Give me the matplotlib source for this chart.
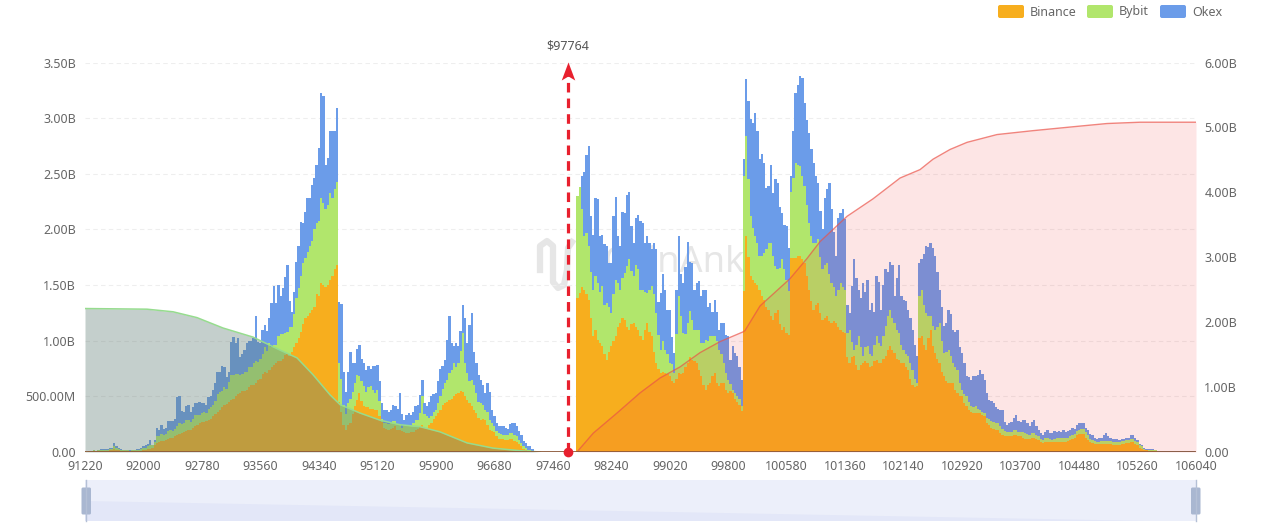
import numpy as np
import matplotlib
matplotlib.use("Agg")
import matplotlib.pyplot as plt
from matplotlib.patches import FancyBboxPatch, Rectangle

plt.rcParams['font.family'] = ['Noto Sans', 'DejaVu Sans']

# liquidation per $30 price bin, in billions
binance = [
    .00, .00, .00, .00, .01, .01, .01, .01, .01, .01, .01, .02, .02, .03, .02, .02, .01, .01, .01, .01,
    .00, .01, .01, .01, .01, .01, .02, .02, .03, .03, .04, .06, .08, .09, .10, .10, .11, .12, .13, .13,
    .14, .15, .16, .17, .18, .19, .20, .20, .22, .23, .24, .26, .27, .27, .28, .29, .30, .32, .34, .36,
    .38, .40, .42, .43, .45, .47, .48, .50, .52, .53, .55, .55, .56, .58, .60, .60, .62, .65, .66, .70,
    .72, .71, .74, .76, .78, .80, .82, .82, .84, .87, .88, .86, .90, .94, .98, 1.02, 1.08, 1.15, 1.20, 1.22,
    1.25, 1.28, 1.30, 1.42, 1.40, 1.52, 1.50, 1.48, 1.50, 1.55, 1.58, 1.64, 1.68, .45, .36, .24, .20, .24, .26, .34,
    .41, .47, .53, .46, .41, .40, .40, .39, .39, .38, .38, .32, .27, .22, .21, .20, .21, .22, .23, .20,
    .20, .19, .18, .17, .17, .18, .18, .20, .21, .23, .24, .22, .21, .24, .26, .30, .32, .35, .38, .42,
    .44, .45, .47, .48, .50, .52, .53, .55, .54, .50, .47, .44, .41, .38, .35, .31, .29, .30, .29, .24,
    .20, .19, .18, .14, .12, .12, .12, .11, .11, .12, .12, .10, .09, .07, .05, .03, .02, .01, .01, .00,
    .00, .00, .00, .00, .00, .00, .00, .00, .00, .00, .00, .00, .00, .00, .00, .00, .00, .00, .00, 1.38,
    1.43, 1.48, 1.46, 1.42, 1.37, 1.20, 1.04, 1.10, 1.01, .98, .95, .88, .83, .90, .95, 1.00, 1.04, 1.12, 1.16, 1.20,
    1.19, 1.12, 1.10, 1.15, 1.16, 1.12, 1.10, 1.04, 1.01, 1.10, 1.16, 1.08, 1.04, .90, .80, .75, .71, .72, .71, .70,
    .68, .64, .62, .66, .71, .70, .71, .76, .80, .85, .83, .82, .80, .74, .68, .60, .56, .60, .62, .68,
    .71, .62, .59, .62, .62, .56, .53, .55, .53, .48, .45, .42, .37, 1.45, 1.94, 1.75, 1.58, 1.55, 1.52, 1.50,
    1.46, 1.40, 1.37, 1.30, 1.28, 1.22, 1.19, 1.25, 1.28, 1.15, 1.10, 1.12, 1.07, 1.05, 1.74, 1.74, 1.74, 1.76, 1.76, 1.73,
    1.70, 1.58, 1.46, 1.36, 1.28, 1.32, 1.34, 1.25, 1.19, 1.20, 1.22, 1.18, 1.16, 1.18, 1.16, 1.12, 1.10, 1.08, 1.07, .85,
    .80, .85, .86, .78, .74, .78, .80, .82, .80, .76, .77, .82, .83, .80, .80, .84, .86, .92, .95, .92,
    .89, .84, .83, .80, .80, .76, .74, .66, .60, .58, .59, 1.02, 1.04, .96, .92, 1.02, 1.10, .95, .89, .84,
    .80, .72, .68, .64, .62, .62, .62, .56, .53, .50, .50, .44, .41, .38, .36, .35, .35, .35, .35, .33,
    .32, .26, .24, .22, .21, .20, .20, .17, .15, .14, .14, .14, .14, .15, .15, .14, .14, .13, .12, .12,
    .12, .13, .13, .12, .11, .09, .08, .09, .09, .09, .09, .09, .09, .09, .09, .09, .09, .10, .11, .12,
    .13, .15, .16, .16, .16, .13, .11, .09, .08, .07, .07, .07, .07, .07, .07, .07, .07, .06, .06, .06,
    .06, .07, .07, .08, .08, .09, .09, .07, .06, .04, .03, .02, .02, .01, .01, .01, .01, .00, .00, .00,
    .00, .00, .00, .00, .00, .00, .00, .00, .00, .00, .00, .00, .00, .00,
]
bybit = [
    .01, .00, .01, .01, .01, .00, .01, .01, .01, .01, .01, .01, .01, .02, .02, .01, .01, .01, .01, .01,
    .01, .01, .01, .01, .01, .02, .02, .02, .02, .03, .02, .03, .06, .05, .06, .05, .05, .07, .07, .06,
    .07, .08, .10, .08, .08, .10, .09, .07, .08, .10, .09, .07, .08, .09, .07, .10, .10, .10, .12, .16,
    .16, .15, .16, .14, .18, .22, .21, .20, .18, .16, .15, .17, .16, .18, .16, .20, .20, .16, .18, .18,
    .22, .20, .24, .18, .18, .16, .22, .24, .22, .20, .20, .26, .22, .30, .40, .45, .50, .55, .54, .58,
    .60, .62, .70, .64, .68, .76, .74, .70, .72, .78, .70, .72, .75, .35, .30, .18, .14, .20, .22, .20,
    .21, .22, .15, .18, .18, .14, .18, .20, .17, .15, .18, .14, .03, .04, .05, .05, .05, .06, .05, .05,
    .04, .03, .05, .06, .06, .05, .08, .09, .08, .12, .26, .12, .11, .07, .06, .06, .06, .09, .12, .15,
    .18, .20, .24, .26, .30, .24, .27, .36, .53, .30, .24, .20, .24, .22, .18, .14, .15, .12, .09, .12,
    .09, .07, .05, .05, .05, .04, .03, .04, .04, .05, .05, .05, .05, .04, .03, .02, .02, .01, .01, .01,
    .00, .00, .00, .00, .00, .00, .00, .00, .00, .00, .00, .00, .00, .00, .00, .00, .00, .00, .00, .92,
    .95, .70, .48, .55, .48, .42, .42, .48, .51, .46, .54, .44, .51, .40, .30, .42, .51, .40, .30, .36,
    .42, .55, .63, .48, .42, .56, .54, .42, .45, .34, .27, .38, .45, .52, .45, .30, .21, .28, .21, .18,
    .12, .15, .09, .40, .69, .52, .36, .30, .36, .42, .36, .28, .30, .36, .30, .38, .45, .40, .42, .36,
    .33, .38, .33, .26, .18, .15, .12, .06, .03, .05, .05, .06, .04, 1.03, .90, .70, .54, .46, .42, .38,
    .30, .36, .42, .52, .60, .66, .57, .42, .36, .50, .63, .52, .48, .40, .60, .72, .86, .82, .81, .75,
    .69, .64, .60, .58, .60, .56, .57, .50, .45, .48, .48, .42, .36, .30, .24, .34, .42, .40, .39, .22,
    .30, .14, .06, .18, .30, .16, .06, .12, .15, .12, .09, .14, .21, .18, .15, .20, .27, .30, .33, .28,
    .27, .26, .24, .16, .12, .12, .12, .14, .14, .08, .03, .38, .42, .36, .33, .20, .12, .18, .21, .28,
    .36, .28, .21, .26, .30, .24, .18, .20, .21, .12, .06, .08, .09, .07, .05, .05, .06, .04, .03, .03,
    .03, .05, .06, .06, .06, .06, .06, .06, .06, .05, .04, .04, .04, .05, .05, .04, .04, .05, .05, .04,
    .03, .04, .04, .03, .03, .03, .03, .04, .04, .03, .02, .03, .04, .04, .04, .04, .04, .03, .03, .03,
    .03, .04, .04, .05, .05, .05, .04, .03, .03, .03, .02, .02, .03, .03, .03, .03, .03, .03, .03, .03,
    .03, .03, .03, .03, .03, .03, .03, .03, .03, .02, .02, .01, .00, .01, .01, .01, .01, .00, .00, .00,
    .00, .00, .00, .00, .00, .00, .00, .00, .00, .00, .00, .00, .00, .00,
]
okex = [
    .00, .00, .00, .00, .00, .00, .00, .01, .01, .01, .01, .01, .01, .03, .01, .01, .01, .00, .00, .00,
    .01, .00, .00, .01, .01, .01, .01, .02, .02, .05, .00, .02, .08, .06, .08, .06, .06, .09, .08, .09,
    .09, .26, .24, .12, .10, .12, .13, .09, .10, .11, .11, .12, .09, .08, .07, .10, .10, .14, .16, .20,
    .18, .22, .18, .10, .09, .30, .34, .28, .32, .16, .18, .20, .26, .24, .24, .22, .40, .18, .14, .22,
    .20, .18, .22, .40, .53, .38, .46, .34, .41, .50, .60, .24, .14, .20, .33, .38, .49, .36, .42, .48,
    .43, .50, .46, .52, .65, .95, .96, .40, .42, .55, .60, .52, .66, .55, .67, .30, .20, .28, .42, .26,
    .18, .24, .28, .20, .21, .20, .19, .16, .21, .24, .22, .18, .14, .12, .12, .11, .12, .14, .13, .14,
    .29, .12, .06, .10, .12, .10, .10, .12, .13, .16, .15, .10, .09, .14, .18, .16, .15, .20, .25, .20,
    .21, .36, .51, .24, .15, .22, .15, .18, .25, .40, .27, .50, .60, .30, .27, .24, .21, .18, .15, .26,
    .25, .12, .09, .07, .06, .07, .08, .07, .06, .08, .09, .11, .09, .08, .07, .05, .04, .03, .03, .02,
    .01, .00, .00, .00, .00, .00, .00, .00, .00, .00, .00, .00, .00, .00, .00, .00, .00, .00, .00, .00,
    .00, .30, .58, .70, .90, .50, .49, .70, .75, .50, .46, .55, .51, .40, .45, .70, .74, .42, .39, .60,
    .54, .64, .61, .40, .30, .42, .49, .62, .60, .44, .51, .42, .33, .46, .57, .30, .51, .60, .54, .40,
    .48, .24, .18, .40, .54, .38, .45, .60, .73, .44, .51, .36, .42, .44, .42, .48, .45, .30, .30, .22,
    .33, .26, .18, .28, .36, .34, .39, .22, .39, .36, .36, .28, .24, .15, .51, .70, .87, .95, 1.11, 1.00,
    .87, .92, .81, .55, .51, .70, .57, .78, .78, .55, .42, .40, .48, .38, .14, .42, .63, .72, .81, .88,
    .75, .76, .81, .78, .72, .60, .51, .42, .36, .60, .66, .82, .66, .50, .36, .64, .63, .70, .63, .25,
    .15, .50, .81, .60, .42, .44, .66, .50, .60, .40, .48, .30, .54, .55, .33, .46, .51, .40, .43, .48,
    .24, .46, .61, .44, .45, .48, .42, .40, .36, .30, .24, .30, .27, .46, .60, .62, .66, .70, .66, .50,
    .30, .30, .24, .26, .36, .38, .30, .32, .36, .32, .33, .28, .18, .22, .24, .28, .27, .30, .36, .34,
    .30, .22, .17, .18, .17, .14, .13, .15, .17, .08, .06, .08, .09, .11, .13, .10, .09, .11, .12, .10,
    .08, .10, .12, .08, .06, .05, .04, .05, .07, .05, .06, .07, .05, .06, .05, .07, .05, .06, .06, .07,
    .05, .05, .06, .05, .05, .04, .05, .04, .04, .03, .03, .04, .03, .05, .07, .04, .03, .03, .03, .03,
    .02, .02, .02, .02, .02, .03, .03, .03, .02, .01, .01, .01, .01, .01, .01, .01, .00, .01, .01, .01,
    .005, .005, .005, .005, .005, .005, .005, .005, .005, .005, .005, .005, .005, .005,
]
bin_start = 91220
bin_size = 30

# cumulative curves, right axis
short_price = [91220, 92047, 92394, 92714, 93061, 93461, 93821, 94048, 94262, 94489, 94622,
               94889, 95156, 95422, 95689, 95956, 96316, 96663, 97023, 97290]
short_cum = [2.21, 2.20, 2.16, 2.07, 1.91, 1.77, 1.57, 1.45, 1.19, .88, .73,
             .60, .49, .42, .39, .31, .14, .06, .02, 0]
long_price = [97783, 98000, 98317, 98624, 98891, 99157, 99424, 99691, 99998, 100024, 100225,
              100625, 100851, 101025, 101385, 101732, 102092, 102359, 102532, 102759, 102986,
              103386, 103866, 104400, 104854, 105294, 106040]
long_cum = [0, .29, .60, .91, 1.14, 1.31, 1.53, 1.70, 1.85, 1.87, 2.25,
            2.67, 2.98, 3.24, 3.63, 3.90, 4.22, 4.35, 4.51, 4.66, 4.77,
            4.89, 4.95, 5.01, 5.06, 5.08, 5.08]

x_ticks = [91220, 92000, 92780, 93560, 94340, 95120, 95900, 96680, 97460, 98240,
           99020, 99800, 100580, 101360, 102140, 102920, 103700, 104480, 105260, 106040]
left_ticks = [0, .5, 1, 1.5, 2, 2.5, 3, 3.5]
left_labels = ['0.00', '500.00M', '1.00B', '1.50B', '2.00B', '2.50B', '3.00B', '3.50B']
right_ticks = [0, 1, 2, 3, 4, 5, 6]
right_labels = ['0.00', '1.00B', '2.00B', '3.00B', '4.00B', '5.00B', '6.00B']

# the marker sits on its category slot, not at 97764 on the scale
marker_x = 97664
marker_label = '$97764'

names = ['Binance', 'Bybit', 'Okex']
colors = ['#f7ae1e', '#b1e66c', '#6b9ce9']

W, H = 1280, 526
text_col = '#666666'
arrow_shape = [(0, 1), (-0.75, -1), (0, -0.55), (0.75, -1)]


def px_axes(left, top, right, bottom):
    return [left / W, 1 - bottom / H, (right - left) / W, (bottom - top) / H]


fig = plt.figure(figsize=(W / 100, H / 100), dpi=100)
ax = fig.add_axes(px_axes(85, 62.5, 1196, 452))

# pixel-space layer for legend, slider and watermark
overlay = fig.add_axes([0, 0, 1, 1], facecolor='none', zorder=5)
overlay.set_xlim(0, W)
overlay.set_ylim(H, 0)
overlay.axis('off')

binance = np.array(binance)
bybit = np.array(bybit)
okex = np.array(okex)
prices = bin_start + bin_size * np.arange(len(binance))

# watermark behind the bars
ax.text(745, 263, 'CoinAnk', transform=overlay.transData, fontsize=26, fontweight='bold',
        color='#e6e6e6', ha='right', va='center', zorder=0)
ax.plot([540, 540, 547, 553, 553, 558, 564, 567, 568, 572],
        [270, 246, 241, 246, 282, 288, 285, 270, 248, 242],
        transform=overlay.transData, color='#e6e6e6', lw=4.5, zorder=0, clip_on=False)

ax.bar(prices, binance, width=bin_size + 2, color=colors[0], lw=0, zorder=2)
ax.bar(prices, bybit, width=bin_size + 2, bottom=binance, color=colors[1], lw=0, zorder=2)
ax.bar(prices, okex, width=bin_size + 2, bottom=binance + bybit, color=colors[2], lw=0, zorder=2)

ax.set_xlim(91220, 106040)
ax.set_ylim(0, 3.5)
ax.set_xticks(x_ticks)
ax.set_yticks(left_ticks)
ax.set_yticklabels(left_labels)
ax.tick_params(axis='x', length=0, pad=5.7, labelsize=9, colors=text_col)
ax.tick_params(axis='y', length=0, pad=6.5, labelsize=9, colors=text_col)
ax.grid(axis='y', color='#eeeeee', lw=0.8, ls=(0, (4, 3)))
ax.set_axisbelow(True)
for s in ax.spines.values():
    s.set_visible(False)

ax2 = ax.twinx()
ax2.set_ylim(0, 6)
ax2.set_yticks(right_ticks)
ax2.set_yticklabels(right_labels)
ax2.tick_params(axis='y', length=0, pad=6, labelsize=9, colors=text_col)
for s in ax2.spines.values():
    s.set_visible(False)

ax2.fill_between(short_price, short_cum, 0, color=(100 / 255, 128 / 255, 120 / 255), alpha=0.375, lw=0)
ax2.plot(short_price, short_cum, color='#96dc8e', lw=1.1)
ax2.fill_between(long_price, long_cum, 0, color=(240 / 255, 55 / 255, 60 / 255), alpha=0.13, lw=0)
ax2.plot(long_price, long_cum, color=(235 / 255, 80 / 255, 70 / 255), alpha=0.7, lw=1)
ax2.axhline(0, color='#8d5a3c', lw=1.3, zorder=3)

# current price marker
ax2.plot([marker_x, marker_x], [0, 5.8], color='#e8202e', lw=2.3, ls=(0, (3, 1.9)), zorder=5)
ax2.plot([marker_x], [5.87], marker=arrow_shape, ms=13, color='#e8202e', mew=0, clip_on=False, zorder=5)
ax2.plot([marker_x], [0], marker='o', ms=7, color='#e8202e', mew=0, clip_on=False, zorder=6)
ax2.annotate(marker_label, (marker_x, 6), xytext=(0, 7.5), textcoords='offset points', ha='center',
             va='bottom', fontsize=9, color='#555555', annotation_clip=False)

# legend, top right
legend_x = [998, 1087, 1160]
for name, c, lx in zip(names, colors, legend_x):
    overlay.add_patch(FancyBboxPatch((lx + 2, 7), 22, 9, boxstyle='round,pad=2', fc=c, ec='none'))
    overlay.text(lx + 32, 12, name, fontsize=9, color=text_col, va='center', ha='left')

# range slider under the chart
overlay.add_patch(Rectangle((85, 480), 1111, 41, fc='#eceffa', ec='none'))
overlay.fill([85, 85, 1150], [501, 521, 521], color='#e3e7f8', lw=0)
for hx in [86, 1195.5]:
    overlay.plot([hx, hx], [480, 521], color='#b4c0d6', lw=1)
    overlay.add_patch(FancyBboxPatch((hx - 3, 489), 6.5, 24, boxstyle='round,pad=1.5', fc='#a9b7d1', ec='none'))

fig.savefig('out.png', dpi=100)
